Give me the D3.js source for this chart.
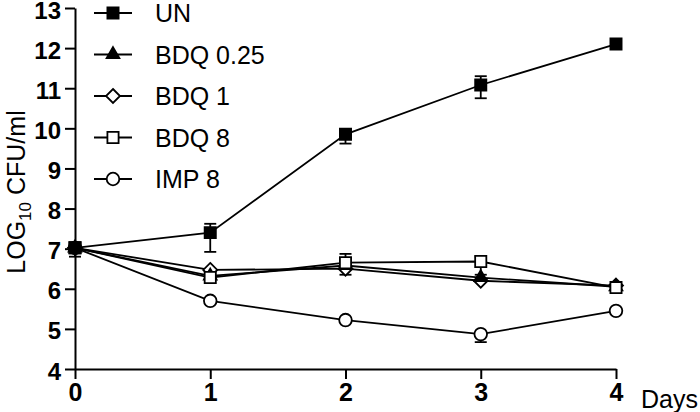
<!DOCTYPE html>
<html>
<head>
<meta charset="utf-8">
<script src="https://cdn.jsdelivr.net/npm/d3@7"></script>
<style>
  body { margin: 0; background: #fff; }
  svg { display: block; font-family: "Liberation Sans", Arial, sans-serif; }
</style>
</head>
<body>
<svg></svg>
<script>
/* data */
var days = [0, 1, 2, 3, 4];
var seriesNames = ["UN", "BDQ 0.25", "BDQ 1", "BDQ 8", "IMP 8"];
var seriesSymbols = ["square", "triangle", "diamond", "square", "circle"];
var seriesFilled = [true, true, false, false, false];
var unValues = [7.02, 7.4, 9.85, 11.08, 12.1];
var bdq025Values = [7.02, 6.32, 6.58, 6.28, 6.05];
var bdq1Values = [7.02, 6.47, 6.5, 6.2, 6.08];
var bdq8Values = [7.02, 6.28, 6.65, 6.68, 6.03];
var imp8Values = [7.02, 5.7, 5.22, 4.87, 5.45];
// error bars (low, high)
var unErr = [[6.8, 7.05], [6.92, 7.62], [9.62, 9.95], [10.75, 11.3], [12.05, 12.15]];
var bdq8Err = [[6.95, 7.05], [6.25, 6.32], [6.35, 6.87], [6.35, 6.8], [6.0, 6.05]];
var imp8Err = [[6.95, 7.05], [5.68, 5.72], [5.2, 5.25], [4.67, 4.9], [5.43, 5.47]];
var yTicks = [4, 5, 6, 7, 8, 9, 10, 11, 12, 13];

var allValues = [unValues, bdq025Values, bdq1Values, bdq8Values, imp8Values];
var allErr = [unErr, null, null, bdq8Err, imp8Err];
var drawOrder = [4, 2, 1, 3, 0];  // which marker sits on top

svgWidth = 700;
svgHeight = 412;
var margin = {top: 8, right: 84, bottom: 43, left: 75};
var width = svgWidth - margin.left - margin.right;
var height = svgHeight - margin.top - margin.bottom;
var scale = {};

var svg = d3.select("svg")
    .attr('width', svgWidth)
    .attr('height', svgHeight);

setScale();
initializeAxis();
drawSeries();
drawLegend();

function setScale(){
  scale.x = d3.scaleLinear()
      .domain([0, 4])
      .range([0, width]);
  scale.y = d3.scaleLinear()
      .domain([4, 13])
      .range([height, 0]);
}

function initializeAxis(){
  var xg = svg.append('g')
      .attr('transform', translate(margin.left, height + margin.top))
      .call(d3.axisBottom(scale.x).tickValues(days).tickFormat(d3.format('d'))
        .tickSizeInner(10).tickSizeOuter(0).tickPadding(4));
  xg.selectAll('text')
      .attr('font-size', 25).attr('font-weight', 'bold').attr('fill', '#000')
      .attr('font-family', '"Liberation Sans", Arial, sans-serif');

  var yg = svg.append('g')
      .attr('transform', translate(margin.left, margin.top))
      .call(d3.axisLeft(scale.y).tickValues(yTicks)
        .tickSizeInner(10).tickSizeOuter(0).tickPadding(4));
  yg.selectAll('text')
      .attr('font-size', 24).attr('font-weight', 'bold').attr('fill', '#000')
      .attr('dy', '0.42em')
      .attr('font-family', '"Liberation Sans", Arial, sans-serif');

  svg.selectAll('.domain, .tick line')
      .attr('stroke', '#000').attr('stroke-width', 2);

  svg.append('text')
      .attr('x', 641).attr('y', 408)
      .attr('font-size', 25).text('Days');

  var ylab = svg.append('text')
      .attr('transform', 'translate(25,192) rotate(-90)')
      .attr('text-anchor', 'middle')
      .attr('font-size', 25);
  ylab.append('tspan').text('LOG');
  ylab.append('tspan').attr('font-size', 17).attr('dy', 6).text('10');
  ylab.append('tspan').attr('dy', -6).text(' CFU/ml');
}

function symbolPath(type){
  if(type == 'diamond'){
    var r = 7;
    return 'M0,' + (-r) + 'L' + r + ',0L0,' + r + 'L' + (-r) + ',0Z';
  }
  var size = {square: 125, triangle: 70, circle: 125}[type];
  var t = {square: d3.symbolSquare, triangle: d3.symbolTriangle,
           circle: d3.symbolCircle}[type];
  return d3.symbol().type(t).size(size)();
}

function drawSeries(){
  var g = svg.append('g')
      .attr('transform', translate(margin.left, margin.top));
  var line = d3.line()
      .x(function(d, i){ return scale.x(days[i]); })
      .y(function(d){ return scale.y(d); });

  allValues.forEach(function(vals, s){
    g.append('path')
        .datum(vals)
        .attr('d', line)
        .attr('fill', 'none')
        .attr('stroke', '#000')
        .attr('stroke-width', 1.8);
  });

  // error bars
  allErr.forEach(function(err, s){
    if(!err) return;
    err.forEach(function(e, i){
      var x = scale.x(days[i]);
      g.append('line')
          .attr('x1', x).attr('x2', x)
          .attr('y1', scale.y(e[0])).attr('y2', scale.y(e[1]))
          .attr('stroke', '#000').attr('stroke-width', 1.8);
      [e[0], e[1]].forEach(function(v){
        g.append('line')
            .attr('x1', x - 6).attr('x2', x + 6)
            .attr('y1', scale.y(v)).attr('y2', scale.y(v))
            .attr('stroke', '#000').attr('stroke-width', 1.8);
      });
    });
  });

  drawOrder.forEach(function(s){
    var vals = allValues[s];
    g.selectAll('.m' + s)
        .data(vals)
        .enter()
        .append('path')
        .attr('class', 'm' + s)
        .attr('transform', function(d, i){ return translate(scale.x(days[i]), scale.y(d)); })
        .attr('d', symbolPath(seriesSymbols[s]))
        .attr('fill', seriesFilled[s] ? '#000' : '#fff')
        .attr('stroke', '#000')
        .attr('stroke-width', 1.8);
  });
}

function drawLegend(){
  var lg = svg.append('g');
  seriesNames.forEach(function(name, i){
    var y = 13 + i * 41.5;
    lg.append('line')
        .attr('x1', 94).attr('x2', 132)
        .attr('y1', y).attr('y2', y)
        .attr('stroke', '#000').attr('stroke-width', 1.8);
    lg.append('path')
        .attr('transform', translate(113, y))
        .attr('d', symbolPath(seriesSymbols[i]))
        .attr('fill', seriesFilled[i] ? '#000' : '#fff')
        .attr('stroke', '#000')
        .attr('stroke-width', 1.8);
    lg.append('text')
        .attr('x', 155).attr('y', y)
        .attr('dy', '0.36em')
        .attr('font-size', 25)
        .text(name);
  });
}

function translate(x, y) {
  return 'translate(' + x + ',' + y + ')';
}
</script>
</body>
</html>
